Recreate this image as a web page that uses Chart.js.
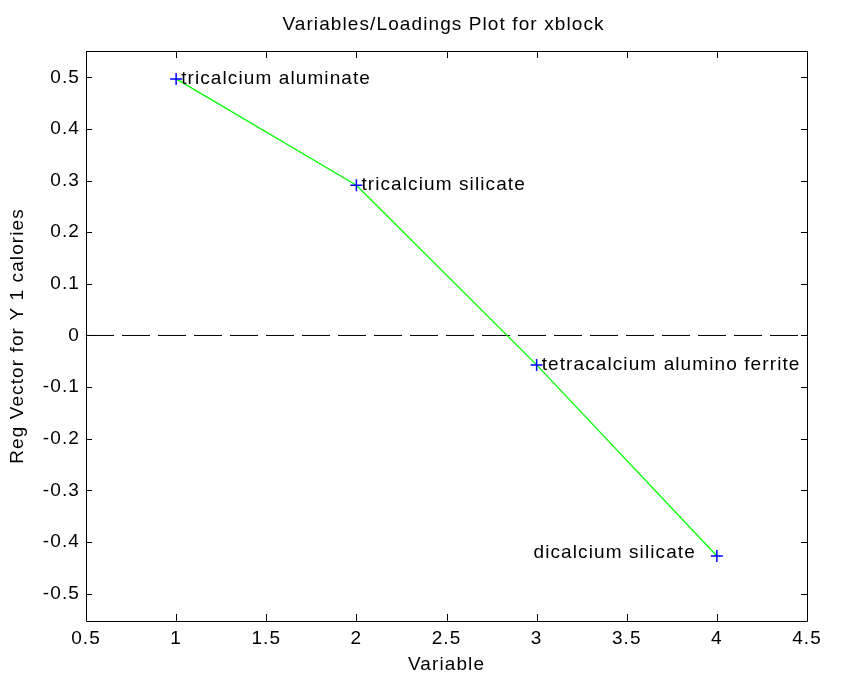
<!DOCTYPE html>
<html>
<head>
<meta charset="utf-8">
<script src="https://cdn.jsdelivr.net/npm/chart.js@4"></script>
<style>
  html, body { margin: 0; background: #fff; }
  #wrap { width: 852px; height: 684px; }
</style>
</head>
<body>
<div id="wrap"><canvas id="plot"></canvas></div>
<script>
"use strict";

// values
var variables = [1, 2, 3, 4];
var regVector = [0.497, 0.291, -0.057, -0.427];
var variableNames = [
  "tricalcium aluminate",
  "tricalcium silicate",
  "tetracalcium alumino ferrite",
  "dicalcium silicate"
];
var xTicks = [0.5, 1, 1.5, 2, 2.5, 3, 3.5, 4, 4.5];
var yTicks = [-0.5, -0.4, -0.3, -0.2, -0.1, 0, 0.1, 0.2, 0.3, 0.4, 0.5];
var zeroLineX = [0.5, 4.5];
var plotTitle = "Variables/Loadings Plot for xblock";

var FONT = "'Liberation Sans', Arial, sans-serif";
var SIZE = 19;
var SPACING = "1.1px";

// matlab-ish wide text
var spacingPlugin = {
  id: "spacing",
  beforeUpdate: function (chart) { chart.ctx.letterSpacing = SPACING; },
  beforeDraw: function (chart) { chart.ctx.letterSpacing = SPACING; }
};

// title centred over the axes box
var titlePlugin = {
  id: "boxTitle",
  afterDraw: function (chart) {
    var ctx = chart.ctx;
    var a = chart.chartArea;
    ctx.save();
    ctx.letterSpacing = SPACING;
    ctx.font = SIZE + "px " + FONT;
    ctx.fillStyle = "#000";
    ctx.textAlign = "center";
    ctx.textBaseline = "middle";
    ctx.fillText(plotTitle, (a.left + a.right) / 2 - 3, a.top - 26);
    ctx.restore();
  }
};

// box around the axes with inward ticks on all four sides
var framePlugin = {
  id: "frame",
  afterDraw: function (chart) {
    var ctx = chart.ctx;
    var a = chart.chartArea;
    var xs = chart.scales.x, ys = chart.scales.y;
    ctx.save();
    ctx.strokeStyle = "#000";
    ctx.lineWidth = 1;
    ctx.beginPath();
    ctx.rect(Math.round(a.left) + 0.5, Math.round(a.top) + 0.5,
             Math.round(a.right - a.left), Math.round(a.bottom - a.top));
    xTicks.forEach(function (v) {
      var px = Math.round(xs.getPixelForValue(v)) + 0.5;
      ctx.moveTo(px, a.bottom); ctx.lineTo(px, a.bottom - 7);
      ctx.moveTo(px, a.top); ctx.lineTo(px, a.top + 7);
    });
    yTicks.forEach(function (v) {
      var py = Math.round(ys.getPixelForValue(v)) + 0.5;
      ctx.moveTo(a.left, py); ctx.lineTo(a.left + 6, py);
      ctx.moveTo(a.right, py); ctx.lineTo(a.right - 6, py);
    });
    ctx.stroke();
    ctx.restore();
  }
};

// text next to each loading point
var labelPlugin = {
  id: "pointLabels",
  afterDatasetsDraw: function (chart, args, opts) {
    var ctx = chart.ctx;
    var xs = chart.scales.x, ys = chart.scales.y;
    ctx.save();
    ctx.letterSpacing = SPACING;
    ctx.font = SIZE + "px " + FONT;
    ctx.fillStyle = "#000";
    ctx.textBaseline = "middle";
    variableNames.forEach(function (name, i) {
      var px = xs.getPixelForValue(variables[i]);
      var py = ys.getPixelForValue(regVector[i]);
      if (opts.leftSide.indexOf(i) >= 0) {
        ctx.textAlign = "right";
        ctx.fillText(name, px - 21, py - 3);
      } else {
        ctx.textAlign = "left";
        ctx.fillText(name, px + 5, py);
      }
    });
    ctx.restore();
  }
};

var loadings = variables.map(function (v, i) { return { x: v, y: regVector[i] }; });
var zeroLine = zeroLineX.map(function (v) { return { x: v, y: 0 }; });

var chart = new Chart(document.getElementById("plot").getContext("2d"), {
  type: "scatter",
  data: {
    datasets: [
      {
        label: "Reg Vector",
        data: loadings,
        showLine: true,
        borderColor: "#00ff00",
        borderWidth: 1.3,
        pointStyle: "cross",
        pointRadius: 6,
        pointBorderColor: "#0000ff",
        pointBackgroundColor: "#0000ff",
        pointBorderWidth: 1.5
      },
      {
        label: "zero",
        data: zeroLine,
        showLine: true,
        borderColor: "#000",
        borderWidth: 1,
        borderDash: [28, 8],
        pointRadius: 0
      }
    ]
  },
  options: {
    responsive: true,
    maintainAspectRatio: false,
    animation: false,
    devicePixelRatio: 1,
    layout: { padding: { left: 0, right: 45, top: 51, bottom: 0 } },
    plugins: {
      legend: { display: false },
      tooltip: { enabled: false },
      title: { display: false },
      pointLabels: { leftSide: [3] }
    },
    scales: {
      x: {
        type: "linear",
        min: 0.5,
        max: 4.5,
        afterBuildTicks: function (s) { s.ticks = xTicks.map(function (v) { return { value: v }; }); },
        afterFit: function (s) { s.height = 63; },
        grid: { display: false, drawTicks: false },
        border: { display: false },
        ticks: {
          color: "#000",
          padding: 6,
          maxRotation: 0,
          autoSkip: false,
          font: { family: FONT, size: SIZE },
          callback: function (v) { return String(v); }
        },
        title: {
          display: true,
          text: "Variable",
          color: "#000",
          font: { family: FONT, size: SIZE },
          padding: { top: 0, bottom: 8 }
        }
      },
      y: {
        type: "linear",
        min: -0.553,
        max: 0.551,
        afterBuildTicks: function (s) { s.ticks = yTicks.map(function (v) { return { value: v }; }); },
        afterFit: function (s) { s.width = 86; },
        grid: { display: false, drawTicks: false },
        border: { display: false },
        ticks: {
          color: "#000",
          padding: 6,
          autoSkip: false,
          font: { family: FONT, size: SIZE },
          callback: function (v) { return String(v); }
        },
        title: {
          display: true,
          text: "Reg Vector for Y 1 calories",
          color: "#000",
          font: { family: FONT, size: SIZE },
          padding: { top: 6, bottom: 0 }
        }
      }
    }
  },
  plugins: [spacingPlugin, labelPlugin, framePlugin, titlePlugin]
});
</script>
</body>
</html>
